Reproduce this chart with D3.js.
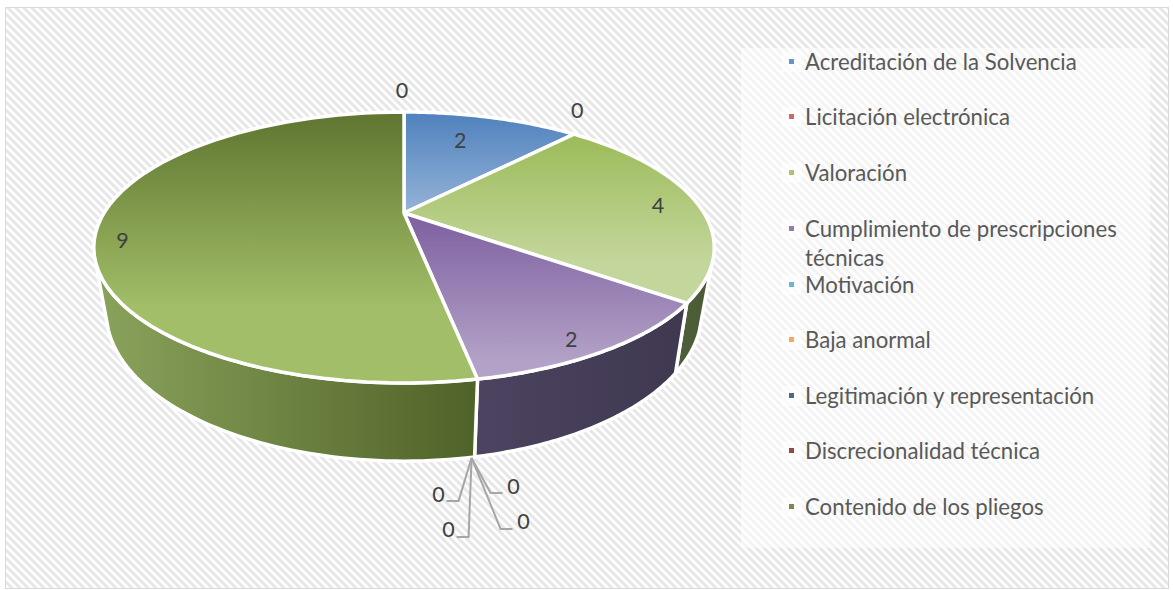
<!DOCTYPE html>
<html><head><meta charset="utf-8">
<script src="https://cdnjs.cloudflare.com/ajax/libs/d3/7.8.5/d3.min.js"></script>
<style>html,body{margin:0;padding:0;background:#fff}svg{display:block}text{font-family:Lato,"Open Sans",sans-serif}</style>
</head><body><div id="c"></div>
<script>
const categories=["Acreditación de la Solvencia","Licitación electrónica","Valoración","Cumplimiento de prescripciones técnicas","Motivación","Baja anormal","Legitimación y representación","Discrecionalidad técnica","Contenido de los pliegos",""];
const values=[2,0,4,2,0,0,0,0,9,0];
const markerColors=["#4f81bd","#c0504d","#9bbb59","#8064a2","#4bacc6","#f79646","#2c4d75","#772c2a","#5f7530","#fff"];
const topGradients={0:[["#4f81bd",0],["#95b3d7",1]],2:[["#9bbb59",0],["#c3d69b",0.75]],3:[["#7d5fa0",0],["#b3a2c7",0.9]],8:[["#5f7530",0],["#a2be68",0.72]]};
const sideGradients={2:["#4f5f3a","#4a5a34"],3:["#4c4460","#3f3850"],8:["#8aa35c","#4f6228"]};
const legendLines=[["Acreditación de la Solvencia"],["Licitación electrónica"],["Valoración"],["Cumplimiento de prescripciones","técnicas"],["Motivación"],["Baja anormal"],["Legitimación y representación"],["Discrecionalidad técnica"],["Contenido de los pliegos"]];
const legendYs=[63,118,174,230,286,341,397,452,508];

const W=1173,H=590;
const svg=d3.select("#c").append("svg").attr("width",W).attr("height",H);
const defs=svg.append("defs");
const pat=defs.append("pattern").attr("id","st").attr("patternUnits","userSpaceOnUse").attr("width",8).attr("height",8);
pat.append("rect").attr("width",8).attr("height",8).attr("fill","#fff");
pat.append("path").attr("d","M-2,2 L2,-2 M0,8 L8,0 M6,10 L10,6").attr("transform","translate(8,0) scale(-1,1)").attr("stroke","#e7e7e7").attr("stroke-width",3);

svg.append("rect").attr("x",5.5).attr("y",7.5).attr("width",1163).attr("height",581).attr("fill","url(#st)").attr("stroke","#d9d9d9");
svg.append("rect").attr("x",741).attr("y",48).attr("width",409).attr("height",500).attr("fill","#fff").attr("fill-opacity",0.5);

// perspective projection of a circle
const rad=d=>d*Math.PI/180;
const proj=(p,a,f=1)=>[p.cx+p.a*f*Math.sin(a)/(1+p.k*Math.cos(a)),p.cy-p.b*f*Math.cos(a)/(1+p.k*Math.cos(a))];
const topP={cx:404,cy:213,a:300,b:126.7,k:0.2546};
const botP={cx:404,cy:274,a:288,b:139.5,k:0.2546};
const pie=d3.pie().sort(null).value(d=>d)(values);
const line=d3.line();
const steps=(a0,a1)=>d3.range(0,61).map(i=>a0+(a1-a0)*i/60);
const topPath=d=>line([[topP.cx,topP.cy],...steps(d.startAngle,d.endAngle).map(a=>proj(topP,a))])+"Z";

Object.entries(topGradients).forEach(([i,c])=>{
  const g=defs.append("linearGradient").attr("id","t"+i).attr("x1",0).attr("y1",0).attr("x2",0).attr("y2",1);
  c.forEach(([col,o])=>g.append("stop").attr("offset",o).attr("stop-color",col));
});
Object.entries(sideGradients).forEach(([i,c])=>{
  const g=defs.append("linearGradient").attr("id","s"+i).attr("x1",0).attr("y1",0).attr("x2",1).attr("y2",0);
  g.append("stop").attr("offset",0).attr("stop-color",c[0]);g.append("stop").attr("offset",1).attr("stop-color",c[1]);
});

// side walls: visible arc of each rim, joined by the silhouette lines
const topVis=[rad(112),rad(249)],botVis=[rad(112),rad(248.7)];
const gSide=svg.append("g");
pie.forEach((d,i)=>{
  if(d.value===0)return;
  const t0=Math.max(d.startAngle,topVis[0]),t1=Math.min(d.endAngle,topVis[1]);
  const b0=Math.max(d.startAngle,botVis[0]),b1=Math.min(d.endAngle,botVis[1]);
  if(t1<=t0||b1<=b0)return;
  const pts=[...steps(t0,t1).map(a=>proj(topP,a)),...steps(b0,b1).reverse().map(a=>proj(botP,a))];
  gSide.append("path").attr("d",line(pts)+"Z").attr("fill",`url(#s${i})`).attr("stroke","#fff").attr("stroke-width",3.5).attr("stroke-linejoin","round");
});
// faces
const gTop=svg.append("g");
pie.forEach((d,i)=>{
  if(d.value===0)return;
  gTop.append("path").attr("d",topPath(d)).attr("fill",`url(#t${i})`).attr("stroke","#fff").attr("stroke-width",3.5).attr("stroke-linejoin","round");
});

// data labels: [slice index, radial factor, nudge x, nudge y]
const labelPlace=[[0,0.7,-5,-5],[1,1.2,-31,-7],[2,0.87,0,3],[3,0.87,-8,7],[8,0.92,0,17],[9,1.22,-2,1]];
const lab=svg.append("g").attr("font-size",21.5).attr("fill","#404040").attr("text-anchor","middle");
labelPlace.forEach(([i,f,nx,ny])=>{
  const d=pie[i],m=(d.startAngle+d.endAngle)/2,[x,y]=proj(topP,m,f);
  lab.append("text").attr("x",x+nx).attr("y",y+ny+7).text(values[i]);
});
// leaders for the four zero slices at the front
const rim=proj(botP,pie[4].startAngle);
const leaderPlace=[[4,-13,43,-12,-8,1],[5,-3,79,-12,-8,0],[6,19,35,12,11,1],[7,29,71,12,11,0]];
const gl=svg.append("g").attr("fill","none").attr("stroke","#a6a6a6").attr("stroke-width",2);
leaderPlace.forEach(([i,dx,dy,ex,tx,ty])=>{
  const o=[rim[0]-3,rim[1]+1];
  const e=[o[0]+dx,o[1]+dy];
  gl.append("path").attr("d",line([o,e,[e[0]+ex,e[1]]]));
  lab.append("text").attr("x",e[0]+ex+tx).attr("y",e[1]+ty).text(values[i]);
});

// legend
const lg=svg.append("g").attr("font-size",22.2).attr("fill","#595959");
legendLines.forEach((ls,i)=>{
  lg.append("rect").attr("x",782).attr("y",legendYs[i]-11).attr("width",20).attr("height",20).attr("fill","#fff").attr("fill-opacity",0.6);
  lg.append("rect").attr("x",789).attr("y",legendYs[i]-4).attr("width",5).attr("height",5).attr("fill",markerColors[i]).attr("fill-opacity",0.85);
  ls.forEach((t,j)=>lg.append("text").attr("x",805).attr("y",legendYs[i]+7+j*29).text(t));
});
</script></body></html>
